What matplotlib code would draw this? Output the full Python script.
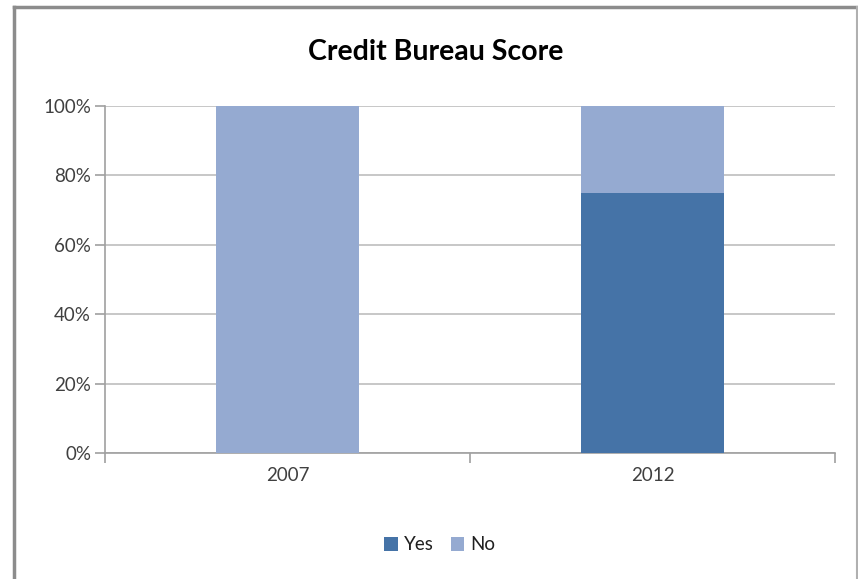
import matplotlib
matplotlib.use("Agg")
import matplotlib.pyplot as plt
from matplotlib.lines import Line2D
from matplotlib.patches import Patch
import numpy as np

categories = ["2007", "2012"]
yes_values = [0, 75]
no_values = [100, 25]
yticks = [0, 20, 40, 60, 80, 100]
ytick_labels = ["0%", "20%", "40%", "60%", "80%", "100%"]

yes_color = "#4573A7"
no_color = "#95AAD1"

plt.rcParams['font.family'] = ['Lato', 'DejaVu Sans']

fig = plt.figure(figsize=(8.58, 5.79), dpi=100)
W, H = 858, 579
ax = fig.add_axes([105 / W, 1 - 453 / H, (835 - 105) / W, (453 - 106) / H])

x = np.arange(len(categories))
width = 0.392
ax.bar(x, yes_values, width, color=yes_color, label="Yes", zorder=3)
ax.bar(x, no_values, width, bottom=yes_values, color=no_color, label="No", zorder=3)

ax.set_xlim(-0.5, 1.5)
ax.set_ylim(0, 100)
ax.set_yticks(yticks)
ax.set_yticklabels(ytick_labels, fontsize=13.5, color="#404040")
ax.set_xticks(x)
ax.set_xticklabels(categories, fontsize=13.5, color="#404040")
ax.tick_params(axis="x", length=0, pad=10)
ax.tick_params(axis="y", length=7, color="#A0A0A0", width=1.2, pad=3)
ax.set_xticks([-0.5, 0.5, 1.5], minor=True)
ax.tick_params(axis="x", which="minor", length=7, color="#A0A0A0", width=1.2)

ax.grid(axis="y", color="#BEBEBE", linewidth=1.2, zorder=0)
for s in ["top", "right"]:
    ax.spines[s].set_visible(False)
ax.spines["left"].set_color("#A0A0A0")
ax.spines["bottom"].set_color("#A0A0A0")
ax.spines["left"].set_linewidth(1.2)
ax.spines["bottom"].set_linewidth(1.2)

fig.text(436 / W, 1 - 52 / H, "Credit Bureau Score", ha="center", va="center",
         fontsize=20.5, fontweight="bold", color="black")

handles = [Patch(facecolor=yes_color, label="Yes"), Patch(facecolor=no_color, label="No")]
fig.legend(handles=handles, loc="center", bbox_to_anchor=(440 / W, 1 - 545 / H),
           ncol=2, frameon=False, fontsize=13.5, handlelength=0.7, handleheight=0.7,
           handletextpad=0.35, columnspacing=0.9, labelcolor="#202020")

# outer border (top, left, right)
fig.add_artist(Line2D([14 / W, 857 / W], [1 - 7 / H, 1 - 7 / H], color="#8C8C8C", lw=2.5))
fig.add_artist(Line2D([14 / W, 14 / W], [0, 1 - 7 / H], color="#8C8C8C", lw=2.5))
fig.add_artist(Line2D([856.5 / W, 856.5 / W], [0, 1 - 7 / H], color="#B0B0B0", lw=1.5))

fig.savefig("out.png", dpi=100)
